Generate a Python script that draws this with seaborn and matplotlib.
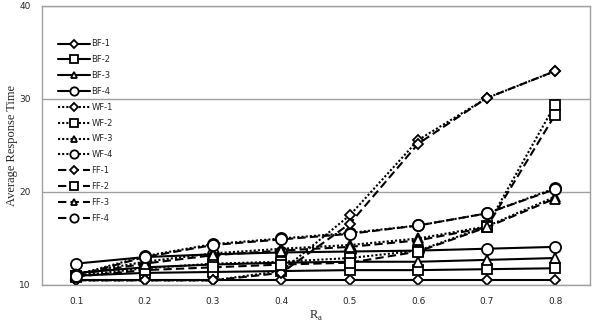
import matplotlib
matplotlib.use("Agg")
import matplotlib.pyplot as plt
import seaborn as sns
import pandas as pd

ra = [0.1, 0.2, 0.3, 0.4, 0.5, 0.6, 0.7, 0.8]
x_labels = ["0.1", "0.2", "0.3", "0.4", "0.5", "0.6", "0.7", "0.8"]

bf1 = [10.5, 10.5, 10.5, 10.5, 10.5, 10.5, 10.5, 10.5]
bf2 = [11.0, 11.3, 11.4, 11.5, 11.6, 11.6, 11.7, 11.8]
bf3 = [11.3, 11.9, 12.2, 12.4, 12.5, 12.5, 12.7, 12.9]
bf4 = [12.3, 13.0, 13.3, 13.5, 13.6, 13.7, 13.9, 14.1]
wf1 = [10.5, 10.5, 10.5, 11.5, 17.5, 25.6, 30.1, 33.0]
wf2 = [11.0, 11.8, 12.3, 12.5, 12.9, 13.7, 16.3, 29.4]
wf3 = [11.2, 12.5, 13.4, 13.9, 14.3, 15.0, 16.3, 19.5]
wf4 = [11.1, 13.1, 14.4, 15.0, 15.6, 16.4, 17.7, 20.4]
ff1 = [10.5, 10.5, 10.5, 11.3, 16.6, 25.2, 30.1, 33.0]
ff2 = [10.9, 11.6, 11.9, 12.2, 12.4, 13.6, 16.2, 28.3]
ff3 = [11.1, 12.3, 13.2, 13.7, 14.1, 14.8, 16.2, 19.3]
ff4 = [11.0, 13.0, 14.3, 14.9, 15.5, 16.4, 17.7, 20.3]

names = ["BF-1", "BF-2", "BF-3", "BF-4", "WF-1", "WF-2", "WF-3", "WF-4",
         "FF-1", "FF-2", "FF-3", "FF-4"]
series = [bf1, bf2, bf3, bf4, wf1, wf2, wf3, wf4, ff1, ff2, ff3, ff4]

sns.set_style("white")
plt.rcParams['font.family'] = ['DejaVu Sans']

fig = plt.figure(figsize=(5.95, 3.26), dpi=100)
ax = fig.add_axes([42/595, 1-285/326, 548/595, 279/326])

markers = {"1": "D", "2": "s", "3": "^", "4": "o"}
msizes = {"1": 5.0, "2": 7.0, "3": 6.5, "4": 8.0}
styles = {"BF": "-", "WF": (0, (1, 1)), "FF": (0, (4, 2))}

for name, vals in zip(names, series):
    fam, idx = name.split("-")
    df = pd.DataFrame({"Ra": ra, "val": vals})
    sns.lineplot(data=df, x="Ra", y="val", ax=ax, color="black",
                 linestyle=styles[fam], linewidth=1.5,
                 marker=markers[idx], markersize=msizes[idx],
                 markerfacecolor="white", markeredgecolor="black",
                 markeredgewidth=1.3, label=name)

ax.set_xlim(0.05, 0.851)
ax.set_ylim(10, 40)
ax.set_yticks([10, 20, 30, 40])
ax.set_xticks(ra)
ax.set_xticklabels(x_labels)
ax.tick_params(axis="both", length=0, labelsize=6.5, pad=8)
ax.tick_params(axis="x", pad=9)
ax.yaxis.grid(True, color="#a0a0a0", linewidth=1.0)
ax.xaxis.grid(False)
for s in ax.spines.values():
    s.set_color("#a0a0a0")
    s.set_linewidth(1.0)

ax.set_xlabel("R$_\\mathregular{a}$", family="Liberation Serif", fontsize=9, labelpad=2)
ax.set_ylabel("Average Response Time", family="Liberation Serif", fontsize=9, labelpad=1)

leg = ax.legend(loc="upper left", bbox_to_anchor=(0.022, 0.895), frameon=False,
                fontsize=6, handlelength=3.8, handletextpad=0.2,
                labelspacing=0.82, borderpad=0, markerscale=0.75)

fig.savefig("out.png", dpi=100)
